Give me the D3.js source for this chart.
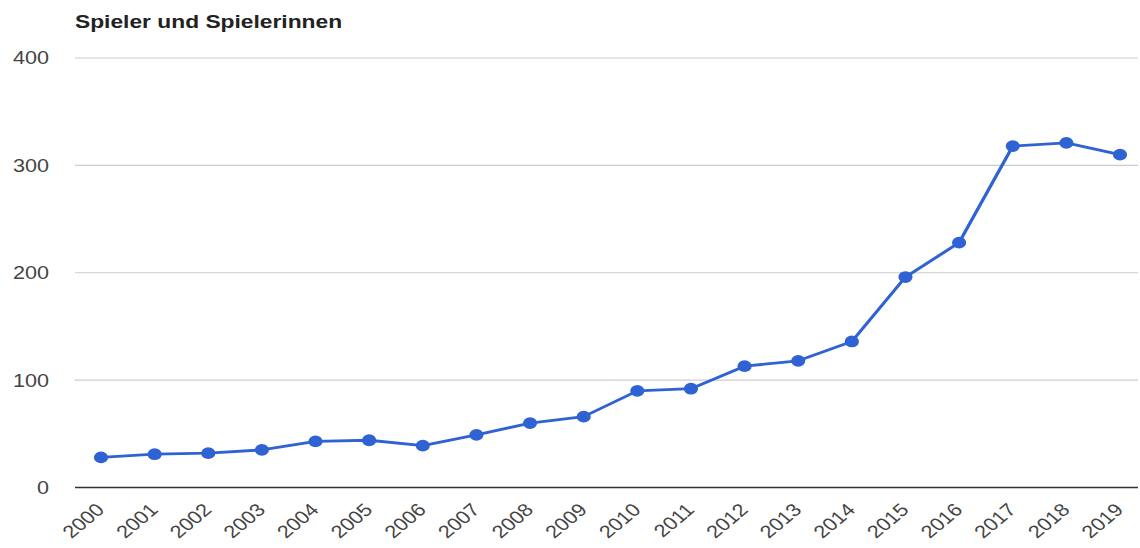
<!DOCTYPE html>
<html>
<head>
<meta charset="utf-8">
<script src="https://cdn.jsdelivr.net/npm/d3@7"></script>
<style>
  html, body { margin: 0; padding: 0; background: #fff; }
  svg { display: block; }
  text { font-family: Arial, "Liberation Sans", sans-serif; }
</style>
</head>
<body>
<svg id="chart" width="1140" height="548"></svg>
<script>
const title = "Spieler und Spielerinnen";
const years = ["2000","2001","2002","2003","2004","2005","2006","2007","2008","2009",
               "2010","2011","2012","2013","2014","2015","2016","2017","2018","2019"];
const players = [28, 31, 32, 35, 43, 44, 39, 49, 60, 66, 90, 92, 113, 118, 136, 196, 228, 318, 321, 310];
const yTicks = [0, 100, 200, 300, 400];

// internal drawing coordinates are stretched horizontally to match the reference
const SX = 1.2;
const W = 1140 / SX, H = 548;
const svg = d3.select("#chart")
  .attr("viewBox", `0 0 ${W} ${H}`)
  .attr("preserveAspectRatio", "none");

const gridLeft = 75 / SX, gridRight = 1138 / SX;
const x = d3.scalePoint().domain(years).range([101 / SX, 1120 / SX]);
const y = d3.scaleLinear().domain([0, 400]).range([487.5, 58]);
const blue = "#2f62d3";

// gridlines
svg.append("g").selectAll("line").data(yTicks.filter(d => d !== 0)).join("line")
  .attr("x1", gridLeft).attr("x2", gridRight)
  .attr("y1", d => y(d)).attr("y2", d => y(d))
  .attr("stroke", "#cccccc").attr("stroke-width", 1.2);

// y labels
svg.append("g").selectAll("text").data(yTicks).join("text")
  .attr("x", 49 / SX).attr("y", d => y(d)).attr("dy", "0.36em")
  .attr("text-anchor", "end").attr("font-size", 18).attr("fill", "#444")
  .text(d => d);

// baseline
svg.append("line")
  .attr("x1", gridLeft).attr("x2", gridRight)
  .attr("y1", y(0)).attr("y2", y(0))
  .attr("stroke", "#333").attr("stroke-width", 1.6);

// x labels
svg.append("g").selectAll("text").data(years).join("text")
  .attr("transform", d => `translate(${x(d) + 3.8},${511}) rotate(-45)`)
  .attr("text-anchor", "end").attr("font-size", 18).attr("fill", "#444")
  .text(d => d);

// line
const line = d3.line().x((d, i) => x(years[i])).y(d => y(d));
svg.append("path").datum(players)
  .attr("d", line).attr("fill", "none")
  .attr("stroke", blue).attr("stroke-width", 2.8).attr("stroke-linejoin", "round");

// points
svg.append("g").selectAll("circle").data(players).join("circle")
  .attr("cx", (d, i) => x(years[i])).attr("cy", d => y(d)).attr("r", 5.9)
  .attr("fill", blue);

// title
svg.append("text").attr("x", 75 / SX).attr("y", 28)
  .attr("font-size", 19).attr("font-weight", "bold").attr("fill", "#222")
  .text(title);
</script>
</body>
</html>
